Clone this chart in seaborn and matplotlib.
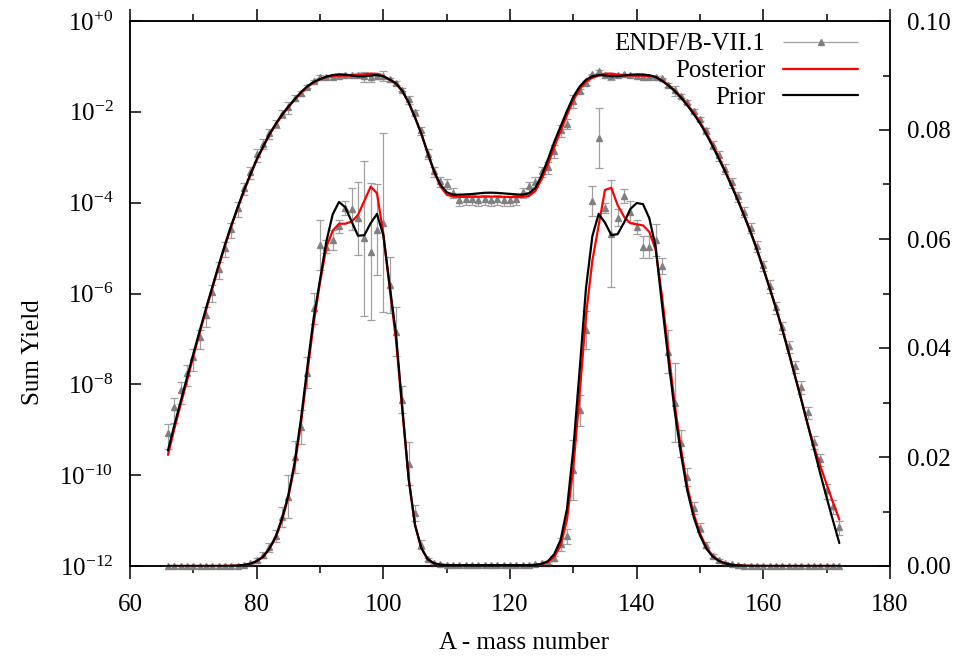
import numpy as np
import pandas as pd
import matplotlib
matplotlib.use("Agg")
import matplotlib.pyplot as plt
import seaborn as sns
from matplotlib.lines import Line2D
from matplotlib.legend_handler import HandlerErrorbar
from matplotlib.ticker import NullLocator

mass = list(range(66, 173))

endf = [
    8.5e-10, 3.2e-9, 7.5e-9, 1.8e-8, 4.0e-8, 1.1e-7, 3.4e-7, 1.1e-6, 3.5e-6, 1.0e-5,
    2.6e-5, 7.5e-5, 2.1e-4, 4.7e-4, 1.15e-3, 2.0e-3, 3.4e-3, 5.5e-3, 9.0e-3, 1.27e-2,
    2.0e-2, 2.55e-2, 3.55e-2, 4.73e-2, 5.89e-2, 5.86e-2, 5.98e-2, 6.23e-2, 6.57e-2, 6.55e-2,
    6.38e-2, 6.01e-2, 5.77e-2, 6.17e-2, 6.30e-2, 5.16e-2, 4.30e-2, 3.05e-2, 1.88e-2, 9.7e-3,
    3.9e-3, 1.2e-3, 5.0e-4, 3.0e-4, 2.6e-4, 1.65e-4, 1.15e-4, 1.2e-4, 1.2e-4, 1.15e-4,
    1.2e-4, 1.15e-4, 1.18e-4, 1.15e-4, 1.12e-4, 1.2e-4, 1.7e-4, 2.3e-4, 2.9e-4, 5.0e-4,
    6.0e-4, 1.4e-3, 4.0e-3, 5.5e-3, 1.76e-2, 2.86e-2, 4.33e-2, 6.70e-2, 7.85e-2, 6.57e-2,
    6.10e-2, 6.39e-2, 6.79e-2, 6.50e-2, 6.22e-2, 5.85e-2, 5.85e-2, 5.98e-2, 5.50e-2, 3.93e-2,
    3.00e-2, 2.25e-2, 1.64e-2, 1.06e-2, 7.0e-3, 3.9e-3, 1.9e-3, 1.1e-3, 5.6e-4, 2.8e-4,
    1.4e-4, 6.3e-5, 2.8e-5, 1.12e-5, 4.2e-6, 1.5e-6, 5.0e-7, 1.8e-7, 7.0e-8, 2.5e-8,
    8.9e-9, 2.5e-9, 5.5e-10, 2.3e-10, 4.7e-11, 2.1e-11, 7.4e-12,
]

endf_rel_err = [
    0.55, 0.55, 0.5, 0.5, 0.5, 0.45, 0.45, 0.4, 0.4, 0.35,
    0.35, 0.35, 0.3, 0.3, 0.3, 0.25, 0.25, 0.2, 0.2, 0.31,
    0.15, 0.12, 0.08, 0.06, 0.078, 0.02, 0.03, 0.02, 0.02, 0.058,
    0.105, 0.236, 0.218, 0.135, 0.26, 0.10, 0.105, 0.08, 0.21, 0.15,
    0.2, 0.25, 0.25, 0.25, 0.25, 0.25, 0.25, 0.25, 0.25, 0.25,
    0.25, 0.25, 0.25, 0.25, 0.25, 0.25, 0.25, 0.25, 0.25, 0.25,
    0.3, 0.3, 0.3, 0.25, 0.31, 0.1, 0.08, 0.042, 0.07, 0.015,
    0.16, 0.025, 0.02, 0.03, 0.02, 0.034, 0.035, 0.05, 0.027, 0.1,
    0.24, 0.11, 0.1, 0.1, 0.12, 0.15, 0.2, 0.25, 0.25, 0.25,
    0.25, 0.25, 0.25, 0.25, 0.25, 0.3, 0.3, 0.3, 0.3, 0.3,
    0.3, 0.3, 0.3, 0.3, 0.35, 0.35, 0.35,
]

posterior = [
    2.8e-10, 1.05e-9, 3.6e-9, 1.2e-8, 4.1e-8, 1.35e-7, 4.3e-7, 1.3e-6, 3.9e-6, 1.12e-5,
    3.0e-5, 7.5e-5, 1.8e-4, 4.0e-4, 8.6e-4, 1.65e-3, 3.1e-3, 5.2e-3, 8.4e-3, 1.26e-2,
    1.84e-2, 2.62e-2, 3.55e-2, 4.45e-2, 5.2e-2, 5.85e-2, 6.15e-2, 6.28e-2, 6.28e-2, 6.32e-2,
    6.44e-2, 6.70e-2, 6.96e-2, 6.84e-2, 6.10e-2, 5.1e-2, 4.15e-2, 2.85e-2, 1.6e-2, 7.6e-3,
    3.3e-3, 1.25e-3, 4.8e-4, 2.3e-4, 1.5e-4, 1.36e-4, 1.34e-4, 1.34e-4, 1.35e-4, 1.35e-4,
    1.36e-4, 1.36e-4, 1.35e-4, 1.34e-4, 1.33e-4, 1.33e-4, 1.34e-4, 1.4e-4, 1.8e-4, 3.3e-4,
    7.0e-4, 1.7e-3, 3.8e-3, 8.5e-3, 1.8e-2, 3.15e-2, 4.6e-2, 5.6e-2, 6.25e-2, 6.90e-2,
    6.94e-2, 6.62e-2, 6.41e-2, 6.29e-2, 6.27e-2, 6.25e-2, 6.13e-2, 5.8e-2, 4.95e-2, 3.95e-2,
    2.98e-2, 2.15e-2, 1.46e-2, 9.6e-3, 6.0e-3, 3.45e-3, 1.88e-3, 9.8e-4, 5.0e-4, 2.45e-4,
    1.15e-4, 5.2e-5, 2.3e-5, 9.4e-6, 3.6e-6, 1.35e-6, 4.8e-7, 1.65e-7, 5.2e-8, 1.55e-8,
    4.7e-9, 1.35e-9, 4.2e-10, 1.6e-10, 6.3e-11, 2.5e-11, 1.05e-11,
]

prior = [
    3.5e-10, 1.26e-9, 4.2e-9, 1.4e-8, 4.7e-8, 1.5e-7, 4.7e-7, 1.4e-6, 4.2e-6, 1.2e-5,
    3.2e-5, 7.9e-5, 1.9e-4, 4.2e-4, 9.0e-4, 1.7e-3, 3.2e-3, 5.4e-3, 8.7e-3, 1.30e-2,
    1.90e-2, 2.70e-2, 3.65e-2, 4.55e-2, 5.25e-2, 5.95e-2, 6.45e-2, 6.68e-2, 6.58e-2, 6.32e-2,
    6.06e-2, 6.07e-2, 6.29e-2, 6.46e-2, 6.07e-2, 5.15e-2, 4.25e-2, 2.90e-2, 1.60e-2, 7.5e-3,
    3.3e-3, 1.25e-3, 5.0e-4, 2.5e-4, 1.7e-4, 1.5e-4, 1.5e-4, 1.52e-4, 1.55e-4, 1.6e-4,
    1.65e-4, 1.66e-4, 1.64e-4, 1.6e-4, 1.56e-4, 1.52e-4, 1.5e-4, 1.6e-4, 2.1e-4, 4.0e-4,
    9.0e-4, 2.2e-3, 4.8e-3, 1.05e-2, 2.15e-2, 3.6e-2, 5.1e-2, 6.05e-2, 6.46e-2, 6.3e-2,
    6.07e-2, 6.09e-2, 6.3e-2, 6.55e-2, 6.66e-2, 6.64e-2, 6.38e-2, 5.85e-2, 4.8e-2, 3.8e-2,
    2.85e-2, 2.05e-2, 1.38e-2, 9.0e-3, 5.6e-3, 3.2e-3, 1.74e-3, 9.1e-4, 4.7e-4, 2.3e-4,
    1.1e-4, 5.0e-5, 2.2e-5, 9.1e-6, 3.5e-6, 1.3e-6, 4.7e-7, 1.6e-7, 5.0e-8, 1.5e-8,
    4.5e-9, 1.3e-9, 3.8e-10, 1.07e-10, 3.2e-11, 1.0e-11, 3.2e-12,
]

log_ticks = [1e-12, 1e-10, 1e-8, 1e-6, 1e-4, 1e-2, 1e0]
log_labels = [r"$10^{-12}$", r"$10^{-10}$", r"$10^{-8}$", r"$10^{-6}$",
              r"$10^{-4}$", r"$10^{-2}$", r"$10^{+0}$"]
lin_ticks = [0.00, 0.02, 0.04, 0.06, 0.08, 0.10]
x_ticks = [60, 80, 100, 120, 140, 160, 180]

df = pd.DataFrame({"A": mass, "endf": endf, "rel": endf_rel_err,
                   "Posterior": posterior, "Prior": prior})
df["err"] = df["endf"] * df["rel"]

sns.set_theme(style="white", rc={
    "axes.edgecolor": "black", "xtick.color": "black", "ytick.color": "black",
    "text.color": "black", "axes.labelcolor": "black", "axes.linewidth": 1.1,
})
plt.rcParams["font.family"] = ["Liberation Serif", "DejaVu Serif"]
plt.rcParams["mathtext.fontset"] = "custom"
plt.rcParams["mathtext.rm"] = "Liberation Serif"
plt.rcParams["mathtext.it"] = "Liberation Serif:italic"
plt.rcParams["mathtext.default"] = "regular"

W, H = 956, 657
L, R, T, B = 130, 890, 21, 566
fig = plt.figure(figsize=(W / 100, H / 100), dpi=100)
ax = fig.add_axes([L / W, 1 - B / H, (R - L) / W, (B - T) / H])
ax2 = ax.twinx()

GRAY = "#808080"
EGRAY = "#a0a0a0"
FS = 18

def draw(axis, clip):
    eb = axis.errorbar(df["A"], df["endf"], yerr=df["err"], fmt="^", ms=5,
                       color=GRAY, ecolor=EGRAY, elinewidth=0.9, capsize=3,
                       capthick=0.9, zorder=2)
    if not clip:
        eb[0].set_clip_on(False)
    sns.lineplot(data=df, x="A", y="Posterior", ax=axis, color="#ff0000",
                 lw=1.6, legend=False, estimator=None, errorbar=None, zorder=3)
    sns.lineplot(data=df, x="A", y="Prior", ax=axis, color="black",
                 lw=1.6, legend=False, estimator=None, errorbar=None, zorder=4)

ax.set_yscale("log")
draw(ax, True)
draw(ax2, False)

ax.set_xlim(60, 180)
ax.set_ylim(1e-12, 1)
ax2.set_ylim(0, 0.10)

ax.set_xticks(x_ticks)
ax.set_xticks(list(range(70, 180, 20)), minor=True)
ax.set_yticks(log_ticks)
ax.set_yticklabels(log_labels)
ax.yaxis.set_minor_locator(NullLocator())
ax.tick_params(axis="x", which="both", direction="out", top=True, bottom=True,
               labelsize=FS, pad=11, width=1.1)
ax.tick_params(axis="x", which="major", length=9)
ax.tick_params(axis="x", which="minor", length=5)
ax.tick_params(axis="y", which="major", direction="in", length=8, width=1.1,
               labelsize=FS, pad=12, right=False)

ax2.set_yticks(lin_ticks)
ax2.set_yticklabels([f"{v:.2f}" for v in lin_ticks])
ax2.set_yticks([0.01, 0.03, 0.05, 0.07, 0.09], minor=True)
ax2.tick_params(axis="y", which="both", direction="in", width=1.1,
                labelsize=FS, pad=12)
ax2.tick_params(axis="y", which="major", length=8)
ax2.tick_params(axis="y", which="minor", length=5)

ax.set_xlabel("A - mass number", fontsize=FS)
ax.xaxis.set_label_coords((524 - L) / (R - L), -(643 - B) / (B - T))
ax.xaxis.label.set_va("center")
ax.set_ylabel("Sum Yield", fontsize=FS)
ax.yaxis.set_label_coords((33 - L) / (R - L), (B - 352) / (B - T))
ax.yaxis.label.set_va("center")
ax2.set_ylabel("")
ax2.set_xlabel("")

for a in (ax, ax2):
    for s in a.spines.values():
        s.set_linewidth(1.1)
        s.set_color("black")

h_endf = ax2.errorbar([], [], xerr=[], fmt="^", ms=5, color=GRAY, ecolor=EGRAY,
                      elinewidth=0.9, capsize=3, capthick=0.9)
h_post = Line2D([], [], color="#ff0000", lw=1.6)
h_prior = Line2D([], [], color="black", lw=1.6)
ax2.legend([h_endf, h_post, h_prior], ["ENDF/B-VII.1", "Posterior", "Prior"],
           loc="upper right", bbox_to_anchor=(858 / W, 1 - 33 / H),
           bbox_transform=fig.transFigure, frameon=False, markerfirst=False,
           handlelength=3.0, handletextpad=0.7, labelspacing=0.17,
           borderpad=0, borderaxespad=0, numpoints=1, fontsize=FS,
           handler_map={h_endf: HandlerErrorbar(xerr_size=1.5)})

fig.savefig("out.png", dpi=100)
